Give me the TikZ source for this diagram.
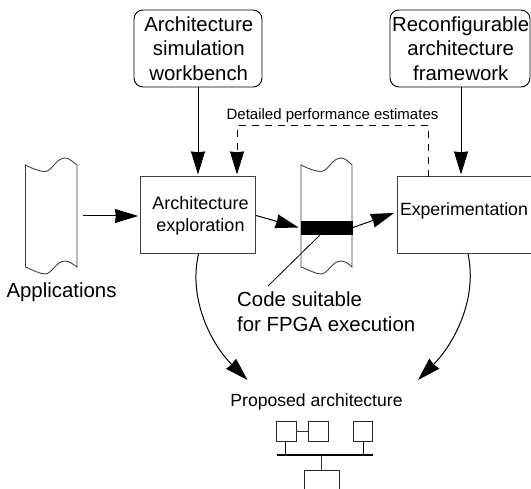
\documentclass[tikz,border=0pt]{standalone}
\usepackage{fontspec}
\setmainfont{Liberation Sans}
\usetikzlibrary{arrows.meta}
\tikzset{
  roundbox/.style={draw,rounded corners=9pt,line width=0.9pt,inner sep=0pt,align=center,font=\fontsize{20.4}{24.5}\selectfont},
  squarebox/.style={draw=black!75,line width=1pt,inner sep=0pt,align=center},
  tapeline/.style={draw=black!75,line width=0.9pt},
  flow/.style={line width=1pt,-{Stealth[length=23pt,width=14pt,inset=0.8pt]}},
  feedback/.style={line width=1pt,dash pattern=on 7pt off 6pt},
  lab/.style={inner sep=0pt,align=center,font=\fontsize{20.4}{25}\selectfont},
  smallbox/.style={draw=black!85,line width=0.8pt,inner sep=0pt,minimum width=19.5pt,minimum height=19.5pt},
}
\begin{document}
\begin{tikzpicture}[x=1pt,y=-1pt]
\useasboundingbox (0,0) rectangle (531,489);
% top boxes
\node[roundbox,minimum width=128pt,minimum height=77pt] (sim) at (198,48.5) {\hspace*{1.5pt}Architecture\\\hspace*{1.5pt}simulation\\\hspace*{1.5pt}workbench};
\node[roundbox,minimum width=140pt,minimum height=77pt] (rec) at (460,48.5) {\hspace*{1.5pt}Reconfigurable\\\hspace*{1.5pt}architecture\\\hspace*{1.5pt}framework};
% process boxes
\node[squarebox,minimum width=115.5pt,minimum height=77pt,font=\fontsize{18}{22}\selectfont] (expl) at (198.2,215.5) {\hspace*{4.6pt}Architecture\\\hspace*{4.6pt}exploration};
\node[squarebox,minimum width=134pt,minimum height=77pt,font=\fontsize{17.7}{22}\selectfont,anchor=west,text width=130pt,align=left] (expt) at (397,215.5) {\raisebox{0pt}[0pt][0pt]{\hspace*{0.5pt}Experimentation}};
% tapes
\draw[tapeline] (25.5,165) .. controls (33,169) and (40,171.5) .. (45,171.5) .. controls (52,171.5) and (56,158) .. (65,158) .. controls (69,158) and (73,162) .. (77,165) -- (77,267) .. controls (73,264) and (69,261) .. (65,261) .. controls (56,261) and (52,274) .. (45,274) .. controls (40,274) and (33,270) .. (25.5,267) -- cycle;
\draw[tapeline] (301,165) .. controls (309,169) and (316,171.5) .. (321,171.5) .. controls (328,171.5) and (332,158) .. (341,158) .. controls (345,158) and (349,162) .. (352,165) -- (352,267) .. controls (349,264) and (345,261) .. (341,261) .. controls (332,261) and (328,274) .. (321,274) .. controls (316,274) and (309,270) .. (301,267) -- cycle;
\node[fill=black,minimum width=52pt,minimum height=14pt,inner sep=0pt] (band) at (326.5,228) {};
% labels
\node[lab] (apps) at (61.5,292.5) {Applications};
\node[lab,align=left,anchor=west] (code) at (237,311.5) {Code suitable\\for FPGA execution};
\node[lab,font=\fontsize{17.6}{22}\selectfont] (prop) at (316.5,401.5) {Proposed architecture};
\node[inner sep=0pt,font=\fontsize{15}{18}\selectfont] (perf) at (332.5,115.5) {Detailed performance estimates};
% free ends
\coordinate (appsout) at (83,216);
\coordinate (explin) at (138,216);
\coordinate (explfb) at (237,174.5);
\coordinate (fbbase) at (237,152);
\coordinate (simout) at (198,87);
\coordinate (explst) at (198,174.5);
\coordinate (recout) at (461,87);
\coordinate (exptst) at (461,174.5);
\coordinate (exptfb) at (428.5,177);
\coordinate (fbr) at (428.5,126);
\coordinate (fbl) at (237,126);
\coordinate (explout) at (256,215.5);
\coordinate (bandin) at (298.5,227.5);
\coordinate (bandout) at (353,227.5);
\coordinate (exptin) at (394,213);
\coordinate (bandbot) at (320,235);
\coordinate (codetop) at (268,286);
\coordinate (explbot) at (198.5,254);
\coordinate (exptbot) at (468,254);
\coordinate (tipl) at (247.5,380);
\coordinate (tipr) at (418,380);
% connectors
\draw[flow] (simout) -- (explst);
\draw[flow] (recout) -- (exptst);
\draw[flow] (appsout) -- (explin);
\draw[flow] (explout) -- (bandin);
\draw[flow] (bandout) -- (exptin);
\draw[feedback] (exptfb) -- (fbr) -- (fbl) -- (fbbase);
\draw[flow] (fbbase) -- (explfb);
\draw[line width=0.8pt] (bandbot) -- (codetop);
\draw[flow] (explbot) .. controls (188,300) and (212,345) .. (tipl);
\draw[flow] (exptbot) .. controls (478,300) and (453,345) .. (tipr);
% small architecture
\node[smallbox] (a) at (286.2,431.5) {};
\node[smallbox] (b) at (318.2,431.5) {};
\node[smallbox] (c) at (363,431.5) {};
\coordinate (busl) at (276.5,455);
\coordinate (busr) at (373,455);
\coordinate (ab) at (285.5,455);
\coordinate (cb) at (363.5,455);
\coordinate (db) at (321.5,455);
\coordinate (dt) at (321.5,470);
\draw[line width=2.2pt] (busl) -- (busr);
\draw[line width=0.7pt,draw=black!80] (a) -- (b);
\draw[line width=0.8pt] (a.south -| ab) -- (ab);
\draw[line width=0.8pt] (c.south -| cb) -- (cb);
\draw[line width=0.8pt,draw=black!80] (db) -- (dt);
\draw[draw=black!85,line width=0.8pt] (304.5,489) -- (304.5,470.5) -- (339.5,470.5) -- (339.5,489);
\end{tikzpicture}
\end{document}
